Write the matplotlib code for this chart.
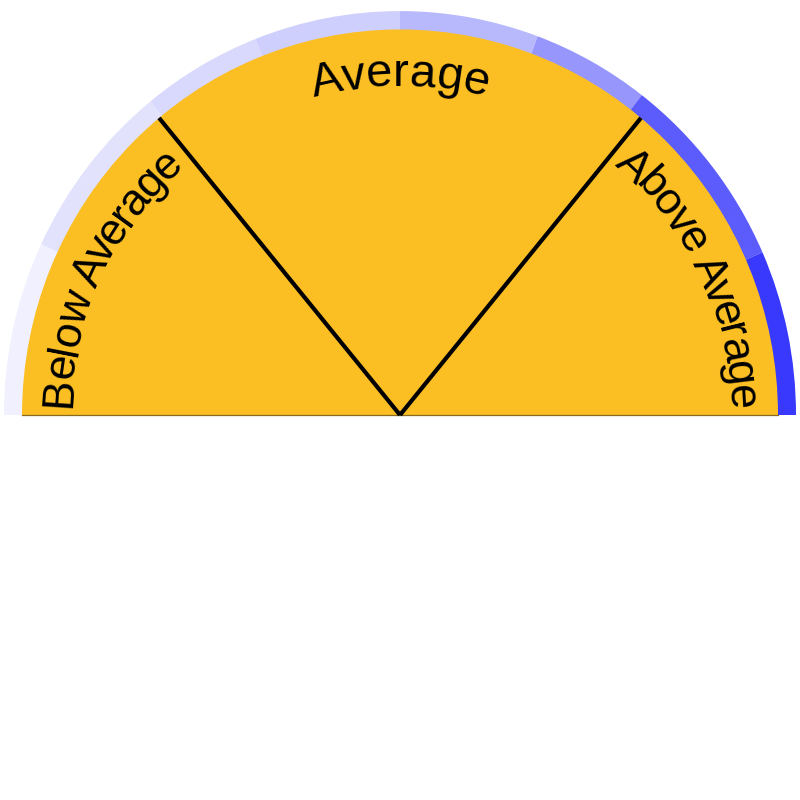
import numpy as np
import matplotlib.pyplot as plt
from matplotlib.patches import Wedge
from matplotlib.font_manager import FontProperties

# gauge scale 0..100, left (180 deg) -> right (0 deg)
ring_edges = [0, 13.9, 28.3, 38.1, 50, 61.3, 70.9, 86.8, 100]
ring_colors = ['#f0f0fe', '#e2e2fd', '#d9d9fd', '#cfcffd', '#b8b8fd', '#9696fd', '#5c5cfd', '#3939fd']
zone_edges = [0, 28, 72, 100]
zone_labels = ['Below Average', 'Average', 'Above Average']
label_sizes = [32, 34, 32]
label_spacing = [0.92, 1.0, 0.92]

FILL = '#fbbf24'
K = 1.02            # slight vertical stretch seen in the reference
R_OUT, R_IN = 396, 378
R_TEXT = 329


def val2deg(v):
    return 180 - v * 1.8


fig = plt.figure(figsize=(8, 8), dpi=100)
ax = fig.add_axes([0, 0, 1, 1])
ax.set_xlim(-400, 400)
ax.set_ylim(-385 / K, 415 / K)
ax.axis('off')

for i, c in enumerate(ring_colors):
    t1, t2 = val2deg(ring_edges[i + 1]), val2deg(ring_edges[i])
    ax.add_patch(Wedge((0, 0), R_OUT, t1, t2, width=R_OUT - R_IN + 1, facecolor=c, edgecolor='none'))

ax.add_patch(Wedge((0, 0), R_IN, 0, 180, facecolor=FILL, edgecolor='none'))
ax.plot([-R_IN, R_IN], [0, 0], color='#8a6a1c', lw=0.9)

for v in zone_edges[1:-1]:
    th = np.radians(val2deg(v))
    ax.plot([0, R_IN * np.cos(th)], [0, R_IN * np.sin(th)], color='black', lw=3, solid_capstyle='butt')

# curved labels, one glyph at a time
renderer = fig.canvas.get_renderer()


def width_px(s, fp):
    if not s:
        return 0.0
    w, h, d = renderer.get_text_width_height_descent(s, fp, ismath=False)
    return w


for i, lab in enumerate(zone_labels):
    fp = FontProperties(family='Liberation Sans', size=label_sizes[i])
    mid = np.radians(val2deg((zone_edges[i] + zone_edges[i + 1]) / 2))
    sp = label_spacing[i]
    total = width_px(lab, fp) * sp
    for j, ch in enumerate(lab):
        if ch == ' ':
            continue
        pos = (width_px(lab[:j], fp) + width_px(lab[:j + 1], fp)) / 2 * sp
        th = mid + (total / 2 - pos) / R_TEXT
        x, y = R_TEXT * np.cos(th), R_TEXT * np.sin(th) / K
        ax.text(x, y, ch, fontproperties=fp, rotation=np.degrees(th) - 90, rotation_mode='anchor',
                ha='center', va='baseline', color='black')

fig.savefig('out.png', dpi=100)
